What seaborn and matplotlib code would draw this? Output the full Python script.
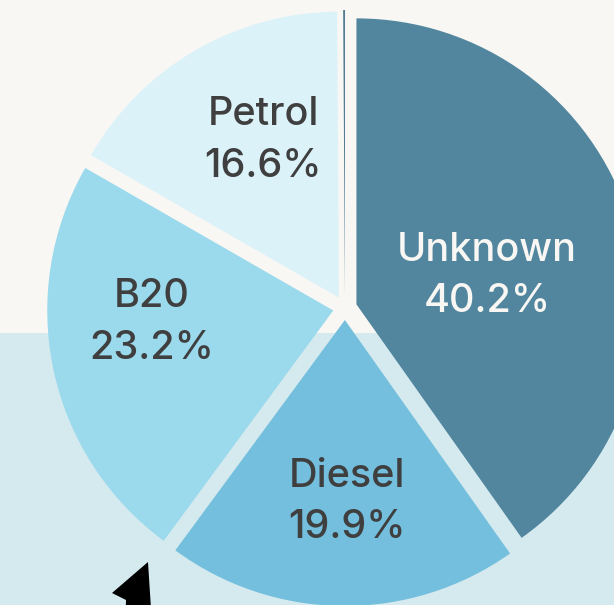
import numpy as np
import matplotlib
matplotlib.use("Agg")
import matplotlib.pyplot as plt
from matplotlib.patches import Polygon
import seaborn as sns

# Fuel type shares (%)
categories = ["Unknown", "Diesel", "B20", "Petrol", "Other"]
shares = [40.2, 19.9, 23.2, 16.6, 0.1]
share_labels = ["40.2%", "19.9%", "23.2%", "16.6%", ""]

sns.set_theme(style="white")
plt.rcParams["font.family"] = ["Inter", "DejaVu Sans"]

palette = sns.color_palette(["#52869e", "#74bfdd", "#9bd9ec", "#dcf2f9", "#4c7890"])
text_colors = ["#f8f7f4", "#3f3f3f", "#3f3f3f", "#3f3f3f", "#3f3f3f"]

W, H = 614, 605
fig = plt.figure(figsize=(W / 100, H / 100), dpi=100)
fig.patch.set_facecolor("#f8f7f4")
ax = fig.add_axes([0, 0, 1, 1])
ax.set_facecolor("#f8f7f4")

# lower background band
ax.axhspan(0, H - 333, color="#d4eaef", zorder=0, lw=0)

cx, cy, R, gap = 345, H - 308, 286, 12
wedges, _ = ax.pie(
    shares, colors=palette, startangle=90, counterclock=False,
    radius=R, center=(cx, cy), explode=[gap] * len(shares),
    wedgeprops=dict(linewidth=0),
)
for w in wedges:
    w.set_zorder(2)

# stacked name / percentage labels inside each wedge
label_dist = [0.47, 0.626, 0.635, 0.62, 0.0]
label_turn = [-4.1, 1.1, -9.0, -4.9, 0.0]
for w, name, pct, d, t, tc in zip(wedges, categories, share_labels, label_dist,
                                   label_turn, text_colors):
    if not pct:
        continue
    mid = np.deg2rad((w.theta1 + w.theta2) / 2 + t)
    x = w.center[0] + d * R * np.cos(mid)
    y = w.center[1] + d * R * np.sin(mid) - 3
    ax.text(x, y, f"{name}\n{pct}", ha="center", va="center", fontsize=28.5,
            fontweight="medium", color=tc, linespacing=1.5, zorder=3)

# pointer arrow in the lower left corner
ax.add_patch(Polygon([(148, H - 562), (112, H - 593), (126, H - 600), (125, H - 640),
                      (153, H - 640)], closed=True, color="black", zorder=4, lw=0))

ax.set_xlim(0, W)
ax.set_ylim(0, H)
ax.set_aspect("equal")
ax.axis("off")
fig.savefig("out.png", dpi=100, facecolor=fig.get_facecolor())
